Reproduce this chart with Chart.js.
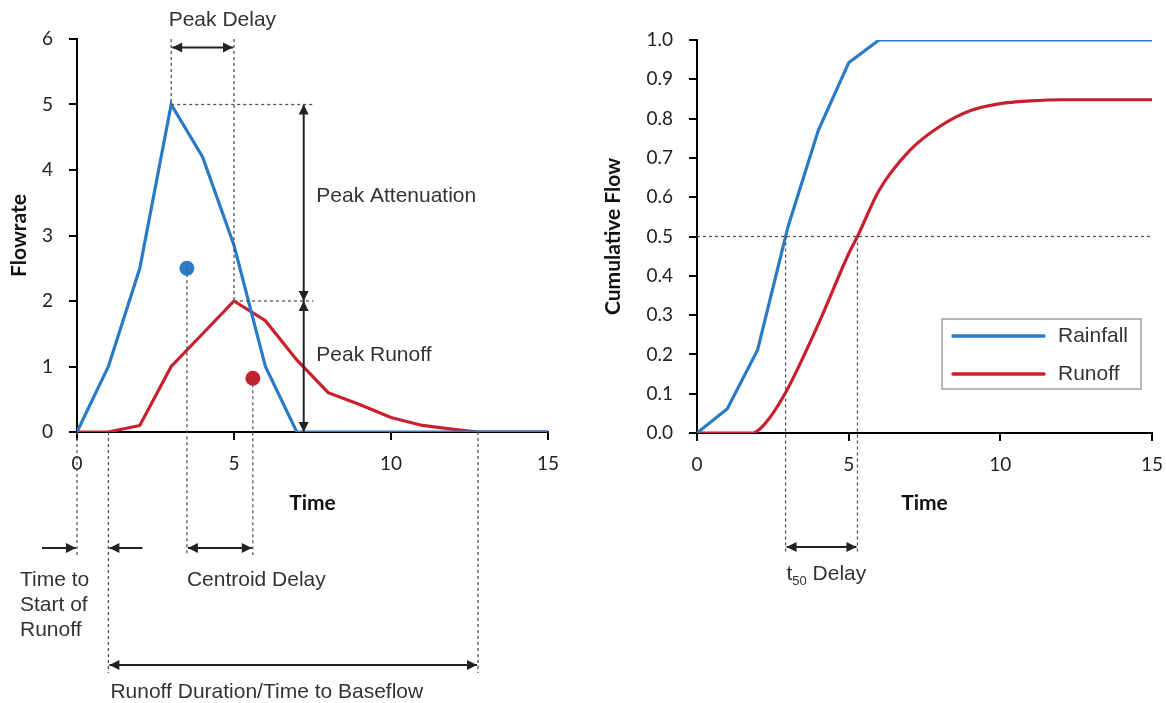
<!DOCTYPE html>
<html>
<head>
<meta charset="utf-8">
<script src="https://cdn.jsdelivr.net/npm/chart.js@4.4.1/dist/chart.umd.min.js"></script>
<style>
  html, body { margin: 0; padding: 0; background: #ffffff; }
  #wrap { position: relative; width: 1166px; height: 703px; overflow: hidden; }
  #c1 { position: absolute; left: 0; top: 0; }
  #c2 { position: absolute; left: 583px; top: 0; }
</style>
</head>
<body>
<div id="wrap">
  <canvas id="c1" width="583" height="703"></canvas>
  <canvas id="c2" width="583" height="703"></canvas>
</div>
<script>
// ---------------- DATA ----------------
// Left panel: hydrograph (flowrate vs time)
const rainTime      = [0, 1, 2, 3, 4, 5, 6, 7, 8, 9, 10, 11, 12, 13, 14, 15];
const rainfallRate  = [0, 1.0, 2.5, 5.0, 4.2, 2.85, 1.0, 0, 0, 0, 0, 0, 0, 0, 0, 0];
const runoffTime    = [0, 1, 2, 3, 4, 5, 6, 7, 8, 9, 10, 11, 12, 12.77, 15];
const runoffRate    = [0, 0, 0.1, 1.0, 1.5, 2.0, 1.7, 1.1, 0.6, 0.42, 0.22, 0.1, 0.04, 0, 0];
const rainfallCentroid = { x: 3.5, y: 2.5 };
const runoffCentroid   = { x: 5.6, y: 0.82 };
const runoffStartTime  = 1;
const baseflowTime     = 12.77;

// Right panel: cumulative flow vs time
const cumRainTime   = [0, 1, 2, 3, 4, 5, 6, 15];
const cumRainfall   = [0, 0.062, 0.212, 0.525, 0.77, 0.942, 1.0, 1.0];
const cumRunoffTime = [0, 1, 1.5, 1.85, 2.2, 2.9, 4, 5, 5.29, 6, 7, 8, 9, 10, 11, 12, 15];
const cumRunoff     = [0, 0, 0, 0, 0.02, 0.10, 0.277, 0.456, 0.5, 0.617, 0.718, 0.78, 0.82, 0.838, 0.845, 0.848, 0.848];
const rainT50   = 2.92;
const runoffT50 = 5.29;

// Ticks / labels
const xTicks = { min: 0, max: 15, step: 5 };
const yTicksLeft  = { min: 0, max: 6, step: 1 };
const yTicksRight = { min: 0, max: 1, step: 0.1 };
const seriesNames = ['Rainfall', 'Runoff'];

// ---------------- STYLE ----------------
const BLUE = '#2B7BC4';
const RED  = '#C8202F';
const TICK_FONT  = { family: 'Lato', size: 19 };
const TITLE_FONT = { family: 'Lato', size: 21, weight: 'bold' };
const ANN_FONT = '21px "Liberation Sans", Arial, sans-serif';
const ANN_TEXT = '#333333';
const LINE_W = 3.2;

function pts(xs, ys) { return xs.map((x, i) => ({ x: x, y: ys[i] })); }

function dashed(ctx, x1, y1, x2, y2) {
  ctx.save();
  ctx.strokeStyle = '#555555';
  ctx.lineWidth = 1.3;
  ctx.setLineDash([3, 3]);
  ctx.beginPath(); ctx.moveTo(x1, y1); ctx.lineTo(x2, y2); ctx.stroke();
  ctx.restore();
}
function head(ctx, x, y, ang) {
  const L = 10, W = 5;
  ctx.save();
  ctx.translate(x, y); ctx.rotate(ang);
  ctx.beginPath(); ctx.moveTo(0, 0); ctx.lineTo(-L, -W); ctx.lineTo(-L, W); ctx.closePath(); ctx.fill();
  ctx.restore();
}
function arrow(ctx, x1, y1, x2, y2, startHead, endHead) {
  ctx.save();
  ctx.strokeStyle = '#222222'; ctx.fillStyle = '#222222'; ctx.lineWidth = 2;
  const a = Math.atan2(y2 - y1, x2 - x1);
  ctx.beginPath(); ctx.moveTo(x1, y1); ctx.lineTo(x2, y2); ctx.stroke();
  if (endHead) head(ctx, x2, y2, a);
  if (startHead) head(ctx, x1, y1, a + Math.PI);
  ctx.restore();
}
function text(ctx, s, x, y, align) {
  ctx.save();
  ctx.font = ANN_FONT; ctx.fillStyle = ANN_TEXT;
  ctx.textAlign = align || 'left'; ctx.textBaseline = 'middle';
  ctx.fillText(s, x, y);
  ctx.restore();
}

const CANVAS_H = 703;
const TITLE_CENTER_Y = 503;
function xScaleOpts(height) {
  return {
    type: 'linear', min: xTicks.min, max: xTicks.max,
    ticks: { stepSize: xTicks.step, color: '#222', font: TICK_FONT, padding: 12, maxRotation: 0 },
    grid: { drawOnChartArea: false, drawTicks: true, tickLength: 8, color: '#000', lineWidth: 2 },
    border: { display: true, color: '#000', width: 2 },
    title: { display: true, text: 'Time', color: '#111', font: TITLE_FONT,
             padding: { top: 0, bottom: (CANVAS_H - TITLE_CENTER_Y) - 12.6 } },
    afterFit: (s) => { s.height = height; s.paddingLeft = 0; s.paddingRight = 0; }
  };
}
function yScaleOpts(t, width, titleText, titlePad, fmt) {
  return {
    type: 'linear', min: t.min, max: t.max,
    ticks: { stepSize: t.step, color: '#222', font: TICK_FONT, padding: 16, callback: fmt },
    grid: { drawOnChartArea: false, drawTicks: true, tickLength: 8, color: '#000', lineWidth: 2 },
    border: { display: true, color: '#000', width: 2 },
    title: { display: true, text: titleText, color: '#111', font: TITLE_FONT, padding: { top: titlePad, bottom: 0 } },
    afterFit: (s) => { s.width = width; }
  };
}

// ---------------- LEFT CHART ----------------
const leftAnnotations = {
  id: 'leftAnnotations',
  afterDraw(chart) {
    const ctx = chart.ctx;
    const xs = chart.scales.x, ys = chart.scales.y;
    const px = v => xs.getPixelForValue(v), py = v => ys.getPixelForValue(v);
    const base = py(0);

    const peakRain = Math.max(...rainfallRate);
    const peakRainT = rainTime[rainfallRate.indexOf(peakRain)];
    const peakRun = Math.max(...runoffRate);
    const peakRunT = runoffTime[runoffRate.indexOf(peakRun)];

    // Peak delay
    dashed(ctx, px(peakRainT), py(yTicksLeft.max), px(peakRainT), py(peakRain));
    dashed(ctx, px(peakRunT), py(yTicksLeft.max), px(peakRunT), py(peakRun));
    arrow(ctx, px(peakRainT) + 1, py(5.87), px(peakRunT) - 1, py(5.87), true, true);
    text(ctx, 'Peak Delay', px(2.92), py(6.29), 'left');

    // Peak attenuation / peak runoff
    dashed(ctx, px(peakRainT), py(peakRain), px(7.52), py(peakRain));
    dashed(ctx, px(peakRunT), py(peakRun), px(7.52), py(peakRun));
    arrow(ctx, px(7.22), py(peakRain), px(7.22), py(peakRun), true, true);
    arrow(ctx, px(7.22), py(peakRun), px(7.22), py(0), true, true);
    text(ctx, 'Peak Attenuation', px(7.62), py(3.6), 'left');
    text(ctx, 'Peak Runoff', px(7.62), py(1.17), 'left');

    // Centroid delay
    dashed(ctx, px(rainfallCentroid.x), py(rainfallCentroid.y), px(rainfallCentroid.x), base + 123);
    dashed(ctx, px(runoffCentroid.x), py(runoffCentroid.y), px(runoffCentroid.x), base + 123);
    arrow(ctx, px(rainfallCentroid.x) + 1, base + 116, px(runoffCentroid.x) - 1, base + 116, true, true);
    text(ctx, 'Centroid Delay', px(rainfallCentroid.x), base + 148, 'left');

    // Time to start of runoff
    dashed(ctx, px(0), base, px(0), base + 123);
    dashed(ctx, px(runoffStartTime), base, px(runoffStartTime), base + 241);
    arrow(ctx, px(0) - 35, base + 116, px(0) - 1, base + 116, false, true);
    arrow(ctx, px(runoffStartTime) + 34, base + 116, px(runoffStartTime) + 1, base + 116, false, true);
    text(ctx, 'Time to', px(0) - 57, base + 148, 'left');
    text(ctx, 'Start of', px(0) - 57, base + 173, 'left');
    text(ctx, 'Runoff', px(0) - 57, base + 198, 'left');

    // Runoff duration
    dashed(ctx, px(baseflowTime), base, px(baseflowTime), base + 241);
    arrow(ctx, px(runoffStartTime) + 1, base + 233, px(baseflowTime) - 1, base + 233, true, true);
    text(ctx, 'Runoff Duration/Time to Baseflow', px(runoffStartTime) + 2, base + 260, 'left');
  }
};

new Chart(document.getElementById('c1'), {
  type: 'line',
  data: {
    datasets: [
      { label: seriesNames[1], data: pts(runoffTime, runoffRate), borderColor: RED, borderWidth: LINE_W, pointRadius: 0, tension: 0, order: 2 },
      { label: seriesNames[0], data: pts(rainTime, rainfallRate), borderColor: BLUE, borderWidth: LINE_W, pointRadius: 0, tension: 0, order: 1 },
      { type: 'scatter', label: 'Rainfall centroid', data: [rainfallCentroid], backgroundColor: BLUE, borderWidth: 0, pointRadius: 7.5 },
      { type: 'scatter', label: 'Runoff centroid', data: [runoffCentroid], backgroundColor: RED, borderWidth: 0, pointRadius: 7.5 }
    ]
  },
  options: {
    responsive: false, animation: false, devicePixelRatio: 1,
    layout: { padding: { left: 0, top: 39, right: 35, bottom: 0 } },
    plugins: { legend: { display: false }, tooltip: { enabled: false } },
    scales: {
      x: xScaleOpts(271),
      y: yScaleOpts(yTicksLeft, 77, 'Flowrate', 6.5, (v) => v)
    }
  },
  plugins: [leftAnnotations]
});

// ---------------- RIGHT CHART ----------------
const rightAnnotations = {
  id: 'rightAnnotations',
  afterDraw(chart) {
    const ctx = chart.ctx;
    const xs = chart.scales.x, ys = chart.scales.y;
    const px = v => xs.getPixelForValue(v), py = v => ys.getPixelForValue(v);
    const base = py(0);
    const ca = chart.chartArea;

    dashed(ctx, px(0), py(0.5), px(15), py(0.5));
    dashed(ctx, px(rainT50), py(0.5), px(rainT50), base + 120);
    dashed(ctx, px(runoffT50), py(0.5), px(runoffT50), base + 120);
    arrow(ctx, px(rainT50) + 1, base + 114, px(runoffT50) - 1, base + 114, true, true);

    // t50 Delay label with subscript
    ctx.save();
    ctx.fillStyle = ANN_TEXT; ctx.textBaseline = 'middle'; ctx.textAlign = 'left';
    let x0 = px(2.95), y0 = base + 141;
    ctx.font = ANN_FONT; ctx.fillText('t', x0, y0); x0 += ctx.measureText('t').width;
    ctx.font = '13px "Liberation Sans", Arial, sans-serif'; ctx.fillText('50', x0, y0 + 7); x0 += ctx.measureText('50').width;
    ctx.font = ANN_FONT; ctx.fillText(' Delay', x0, y0);
    ctx.restore();

    // Legend
    const bw = 199, bh = 70;
    const bx = ca.right - 11 - bw, by = ca.bottom - 44 - bh;
    ctx.save();
    ctx.fillStyle = '#ffffff'; ctx.fillRect(bx, by, bw, bh);
    ctx.strokeStyle = '#8c8c8c'; ctx.lineWidth = 1.2; ctx.strokeRect(bx, by, bw, bh);
    const rows = [ { name: chart.data.datasets[0].label, color: chart.data.datasets[0].borderColor, y: by + 17 },
                   { name: chart.data.datasets[1].label, color: chart.data.datasets[1].borderColor, y: by + 55 } ];
    rows.forEach(r => {
      ctx.strokeStyle = r.color; ctx.lineWidth = 3.5; ctx.lineCap = 'round';
      ctx.beginPath(); ctx.moveTo(bx + 11, r.y); ctx.lineTo(bx + 102, r.y); ctx.stroke();
      ctx.font = ANN_FONT; ctx.fillStyle = ANN_TEXT; ctx.textAlign = 'left'; ctx.textBaseline = 'middle';
      ctx.fillText(r.name, bx + 116, r.y);
    });
    ctx.restore();
  }
};

new Chart(document.getElementById('c2'), {
  type: 'line',
  data: {
    datasets: [
      { label: seriesNames[0], data: pts(cumRainTime, cumRainfall), borderColor: BLUE, borderWidth: LINE_W, pointRadius: 0, tension: 0 },
      { label: seriesNames[1], data: pts(cumRunoffTime, cumRunoff), borderColor: RED, borderWidth: LINE_W, pointRadius: 0, cubicInterpolationMode: 'monotone' }
    ]
  },
  options: {
    responsive: false, animation: false, devicePixelRatio: 1,
    layout: { padding: { left: 0, top: 40, right: 14, bottom: 0 } },
    plugins: { legend: { display: false }, tooltip: { enabled: false } },
    scales: {
      x: xScaleOpts(270),
      y: yScaleOpts(yTicksRight, 114, 'Cumulative Flow', 17.5, (v) => Number(v).toFixed(1))
    }
  },
  plugins: [rightAnnotations]
});
</script>
</body>
</html>
